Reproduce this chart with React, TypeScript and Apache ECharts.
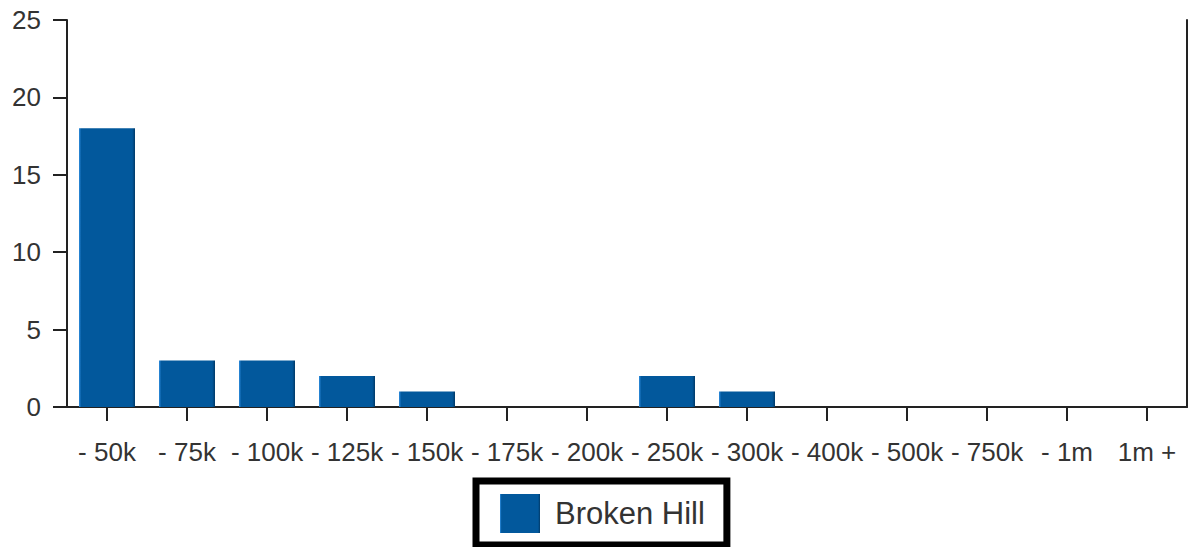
import React, { useEffect, useRef } from "react";
import * as echarts from "echarts";

const categories = ["- 50k", "- 75k", "- 100k", "- 125k", "- 150k", "- 175k", "- 200k", "- 250k", "- 300k", "- 400k", "- 500k", "- 750k", "- 1m", "1m +"];
const brokenHill = [18, 3, 3, 2, 1, 0, 0, 2, 1, 0, 0, 0, 0, 0];
const seriesName = "Broken Hill";
const yTicks = { min: 0, max: 25, interval: 5 };

export default function App() {
  const ref = useRef<HTMLDivElement>(null);
  useEffect(() => {
    document.body.style.margin = "0";
    const chart = echarts.init(ref.current!, null, { renderer: "svg" });
    const barColor = new echarts.graphic.LinearGradient(0, 0, 1, 0, [
      { offset: 0, color: "#2f8ee0" },
      { offset: 0.04, color: "#02589c" },
      { offset: 0.95, color: "#02589c" },
      { offset: 1, color: "#013a68" },
    ]);
    const font = "Liberation Sans, Arial, sans-serif";
    chart.setOption({
      animation: false,
      textStyle: { fontFamily: font },
      grid: { left: 67, right: 2, top: 20, bottom: 140, containLabel: false },
      legend: {
        data: [{ name: seriesName, icon: "rect" }],
        left: 476,
        top: 481,
        borderColor: "#000",
        borderWidth: 7,
        padding: [13, 22, 12, 24],
        itemWidth: 40,
        itemHeight: 39,
        itemGap: 10,
        textStyle: { fontSize: 31, color: "#333", fontFamily: font, padding: [0, 0, 0, 10] },
      },
      xAxis: {
        type: "category",
        data: categories,
        axisLine: { show: true, lineStyle: { color: "#222", width: 2 } },
        axisTick: { show: true, alignWithLabel: true, length: 14, lineStyle: { color: "#222", width: 2 } },
        axisLabel: { fontSize: 26, color: "#333", margin: 32, interval: 0 },
      },
      yAxis: [
        {
          type: "value",
          min: yTicks.min,
          max: yTicks.max,
          interval: yTicks.interval,
          splitLine: { show: false },
          axisLine: { show: true, lineStyle: { color: "#222", width: 2 } },
          axisTick: { show: true, length: 14, lineStyle: { color: "#222", width: 2 } },
          axisLabel: { fontSize: 26, color: "#333", margin: 26 },
        },
        {
          type: "value",
          position: "right",
          min: yTicks.min,
          max: yTicks.max,
          interval: yTicks.interval,
          splitLine: { show: false },
          axisLine: { show: true, lineStyle: { color: "#222", width: 2 } },
          axisTick: { show: false },
          axisLabel: { show: false },
        },
      ],
      series: [
        {
          name: seriesName,
          type: "bar",
          data: brokenHill,
          barWidth: 56,
          itemStyle: { color: barColor },
        },
      ],
    });
    return () => chart.dispose();
  }, []);
  return <div ref={ref} style={{ width: 1189, height: 547 }} />;
}
